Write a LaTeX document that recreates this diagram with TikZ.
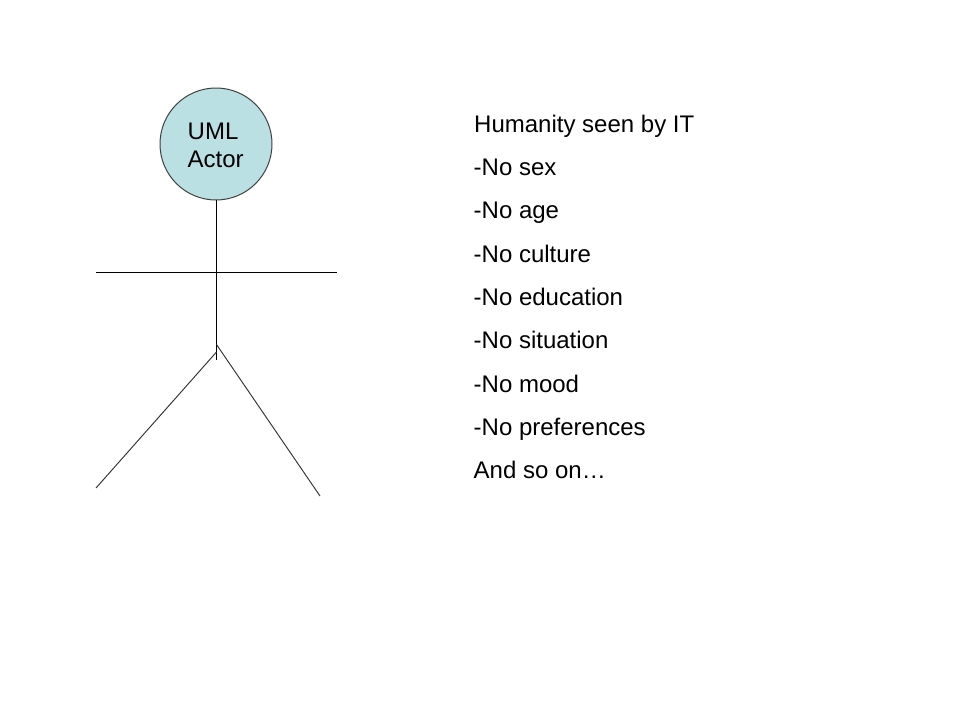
\documentclass[tikz,border=0pt]{standalone}
\usepackage{fontspec}
\setmainfont{Liberation Sans}
\begin{document}
\begin{tikzpicture}[x=1pt,y=-1pt,
  limb/.style={draw=black,line width=0.95pt},
  leg/.style={draw=black!80,line width=0.95pt},
  txt/.style={anchor=base west,inner sep=0pt,font=\fontsize{24}{28}\selectfont,text=black}]
\useasboundingbox (0,0) rectangle (960,720);
\fill[white] (0,0) rectangle (960,720);
\node[circle,draw=black!75,fill={rgb,255:red,187;green,224;blue,227},line width=1pt,minimum size=112pt,inner sep=0pt] (head) at (216,144) {};
\node[txt] (a1) at (187.5,139.5) {UML};
\node[txt] (a2) at (187.5,167) {Actor};
\coordinate (neck) at (216.5,200);
\coordinate (spineEnd) at (216.5,360);
\coordinate (hipL) at (216.5,352);
\coordinate (hipR) at (216.5,344.5);
\coordinate (armL) at (96,272.3);
\coordinate (armR) at (337,272.3);
\coordinate (legL) at (96,488);
\coordinate (legR) at (320,496);
\draw[limb] (neck) -- (spineEnd);
\draw[limb] (armL) -- (armR);
\draw[leg] (hipL) -- (legL);
\draw[leg] (hipR) -- (legR);
\node[txt] (t0) at (474,132.5) {Humanity seen by IT};
\node[txt] (t1) at (473.5,175.5) {-No sex};
\node[txt] (t2) at (473.5,218.5) {-No age};
\node[txt] (t3) at (473.5,262) {-No culture};
\node[txt] (t4) at (473.5,305) {-No education};
\node[txt] (t5) at (473.5,348) {-No situation};
\node[txt] (t6) at (473.5,392) {-No mood};
\node[txt] (t7) at (473.5,435) {-No preferences};
\node[txt] (t8) at (473.5,478) {And so on…};
\end{tikzpicture}
\end{document}
